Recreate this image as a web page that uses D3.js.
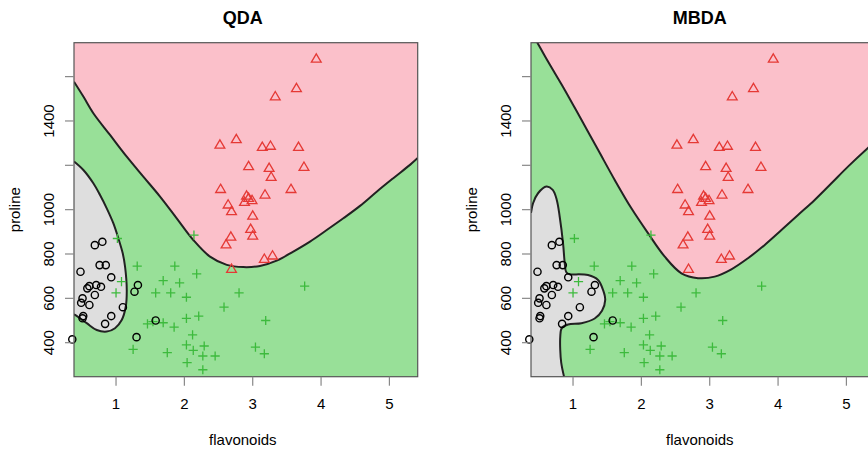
<!DOCTYPE html>
<html>
<head>
<meta charset="utf-8">
<script src="https://cdn.jsdelivr.net/npm/d3@7"></script>
<style>
body { margin: 0; background: #fff; }
text { font-family: "Liberation Sans", Arial, sans-serif; }
</style>
</head>
<body>
<svg id="chart" width="868" height="452"></svg>
<script>
// points: [flavonoids, proline]
var class1 = [ // red triangles
	[3.93,1683],[3.64,1550],[3.33,1513],[2.76,1320],[2.52,1295],[3.14,1285],[3.26,1290],[3.67,1285],
	[2.94,1198],[3.24,1190],[3.75,1195],[3.27,1150],[2.53,1095],[3.56,1095],[2.91,1065],[3.18,1070],
	[2.88,1037],[2.99,1045],[2.94,1055],[2.64,1025],[2.69,995],[3.00,975],[2.97,915],[3.00,885],
	[2.68,880],[2.61,845],[3.17,780],[3.29,795],[2.69,735]
];
var class2 = [ // green crosses
	[2.14,885],[1.02,870],[1.31,745],[1.86,745],[2.18,710],[1.08,675],[1.69,680],[1.93,670],
	[1.00,625],[1.58,625],[1.80,625],[2.03,605],[2.80,625],[3.76,655],[2.58,560],[3.19,500],
	[2.21,520],[2.03,510],[1.46,485],[1.54,495],[1.69,490],[1.85,470],[2.12,435],[2.03,390],
	[2.29,385],[1.25,370],[1.75,355],[2.13,365],[2.27,340],[2.45,340],[3.04,380],[3.17,350],
	[2.04,310],[2.27,278]
];
var class3 = [ // black circles
	[0.69,840],[0.80,855],[0.48,720],[0.76,750],[0.85,750],[0.93,695],[0.58,645],[0.61,655],
	[0.71,660],[0.78,652],[0.69,615],[0.51,600],[0.49,580],[0.61,570],[1.32,660],[1.27,630],
	[1.10,560],[0.93,520],[0.52,520],[0.51,510],[0.84,485],[1.58,500],[1.30,425],[0.36,415]
];

// decision boundaries
var qdaPink = [
	[0.385,1577],[0.522,1510],[0.668,1435],[0.912,1337],[1.157,1239],[1.399,1149],[1.644,1059],
	[1.888,961],[2.131,863],[2.375,788],[2.620,751],[2.862,741],[3.107,746],[3.351,770],
	[3.594,811],[3.838,856],[4.083,908],[4.326,961],[4.570,1017],[4.814,1081],[5.057,1142],
	[5.301,1202],[5.414,1233]
];
var qdaGrey = [
	[0.385,1217],[0.522,1179],[0.668,1119],[0.766,1066],[0.864,1006],[0.960,939],[1.034,871],
	[1.098,803],[1.132,743],[1.157,638],[1.142,562],[1.083,502],[0.985,465],[0.864,450],
	[0.718,457],[0.571,488],[0.400,525],[0.385,527]
];
var mbdaPink = [
	[0.416,1788],[0.479,1753],[0.634,1668],[0.879,1540],[1.123,1405],[1.366,1270],[1.610,1134],
	[1.854,1006],[2.097,894],[2.342,788],[2.586,713],[2.829,691],[3.073,698],[3.317,731],
	[3.560,781],[3.805,841],[4.049,908],[4.292,976],[4.536,1044],[4.781,1119],[5.023,1194],
	[5.311,1277],[5.414,1305]
];
var mbdaGrey = [
	[0.385,985],[0.415,1029],[0.488,1074],[0.611,1104],[0.703,1089],[0.762,1044],[0.805,968],
	[0.854,848],[0.879,758],[0.900,719],[0.952,708],[1.000,708],[1.219,705],[1.366,683],
	[1.439,638],[1.471,593],[1.424,544],[1.317,509],[1.123,488],[0.927,482],[0.835,466],
	[0.813,426],[0.813,367],[0.827,310],[0.868,247]
];

var xTicks = [1, 2, 3, 4, 5];
var yTicks = [400, 600, 800, 1000, 1200, 1400, 1600];
var yTickLabels = [400, 600, 800, 1000, 1400];

var xDomain = [0.385, 5.414];
var yDomain = [246.6, 1753];

var svg = d3.select("#chart");
var panelW = 343.7;
var plotTop = 42.7, plotBottom = 376.7;

var colPink = "#fbc0ca", colGreen = "#98e098", colGrey = "#dedede";

var drawPanel = function (left, title, pink, pinkClose, grey, greyClose, id) {
	var x = d3.scaleLinear().domain(xDomain).range([left, left + panelW]);
	var y = d3.scaleLinear().domain(yDomain).range([plotBottom, plotTop]);
	var g = svg.append("g");

	g.append("clipPath").attr("id", id)
		.append("rect")
		.attr("x", left).attr("y", plotTop)
		.attr("width", panelW).attr("height", plotBottom - plotTop);

	var line = d3.line()
		.x(function (d) { return x(d[0]); })
		.y(function (d) { return y(d[1]); })
		.curve(d3.curveCatmullRom.alpha(0.5));

	var region = function (pts, close) {
		var p = line(pts);
		close.forEach(function (c) { p += "L" + x(c[0]) + "," + y(c[1]); });
		return p + "Z";
	};

	var plot = g.append("g").attr("clip-path", "url(#" + id + ")");
	plot.append("rect")
		.attr("x", left).attr("y", plotTop)
		.attr("width", panelW).attr("height", plotBottom - plotTop)
		.style("fill", colGreen);
	plot.append("path").attr("d", region(pink, pinkClose)).style("fill", colPink);
	plot.append("path").attr("d", region(grey, greyClose)).style("fill", colGrey);
	[pink, grey].forEach(function (b) {
		plot.append("path").attr("d", line(b))
			.style("fill", "none").style("stroke", "#222").style("stroke-width", 2);
	});

	// points (not clipped, as in R)
	class2.forEach(function (d) {
		var cx = x(d[0]), cy = y(d[1]), h = 4.6;
		g.append("path")
			.attr("d", "M" + (cx - h) + "," + cy + "H" + (cx + h) + "M" + cx + "," + (cy - h) + "V" + (cy + h))
			.style("stroke", "#3dba3d").style("stroke-width", 1.3).style("fill", "none");
	});
	class1.forEach(function (d) {
		var cx = x(d[0]), cy = y(d[1]);
		g.append("path")
			.attr("d", "M" + cx + "," + (cy - 4.4) + "L" + (cx + 4.9) + "," + (cy + 3.9) + "L" + (cx - 4.9) + "," + (cy + 3.9) + "Z")
			.style("stroke", "#e53935").style("stroke-width", 1.3).style("fill", "none");
	});
	class3.forEach(function (d) {
		g.append("circle")
			.attr("cx", x(d[0])).attr("cy", y(d[1])).attr("r", 3.6)
			.style("stroke", "#000").style("stroke-width", 1.4).style("fill", "none");
	});

	// box
	g.append("rect")
		.attr("x", left).attr("y", plotTop)
		.attr("width", panelW).attr("height", plotBottom - plotTop)
		.style("fill", "none").style("stroke", "#555").style("stroke-width", 1.2);

	// axes
	xTicks.forEach(function (t) {
		g.append("line")
			.attr("x1", x(t)).attr("x2", x(t)).attr("y1", plotBottom).attr("y2", plotBottom + 9)
			.style("stroke", "#888").style("stroke-width", 1.2);
		g.append("text")
			.attr("x", x(t)).attr("y", 408.5)
			.attr("text-anchor", "middle").style("font-size", "15px")
			.text(t);
	});
	yTicks.forEach(function (t) {
		g.append("line")
			.attr("x1", left - 9).attr("x2", left).attr("y1", y(t)).attr("y2", y(t))
			.style("stroke", "#888").style("stroke-width", 1.2);
	});
	yTickLabels.forEach(function (t) {
		g.append("text")
			.attr("transform", "translate(" + (left - 20) + "," + y(t) + ") rotate(-90)")
			.attr("text-anchor", "middle").style("font-size", "15px")
			.text(t);
	});

	g.append("text")
		.attr("x", left + panelW / 2 - 3).attr("y", 24)
		.attr("text-anchor", "middle")
		.style("font-size", "18px").style("font-weight", "bold")
		.text(title);
	g.append("text")
		.attr("x", left + panelW / 2 - 3).attr("y", 445)
		.attr("text-anchor", "middle").style("font-size", "15px")
		.text("flavonoids");
	g.append("text")
		.attr("transform", "translate(" + (left - 54.5) + "," + ((plotTop + plotBottom) / 2) + ") rotate(-90)")
		.attr("text-anchor", "middle").style("font-size", "15px")
		.text("proline");
};

drawPanel(74, "QDA", qdaPink, [[xDomain[1], 1800], [xDomain[0] - 0.1, 1800]],
	qdaGrey, [], "clipQDA");
drawPanel(531, "MBDA", mbdaPink, [[xDomain[1] + 0.1, 1800]],
	mbdaGrey, [[xDomain[0] - 0.1, 200], [xDomain[0] - 0.1, 985]], "clipMBDA");
</script>
</body>
</html>
